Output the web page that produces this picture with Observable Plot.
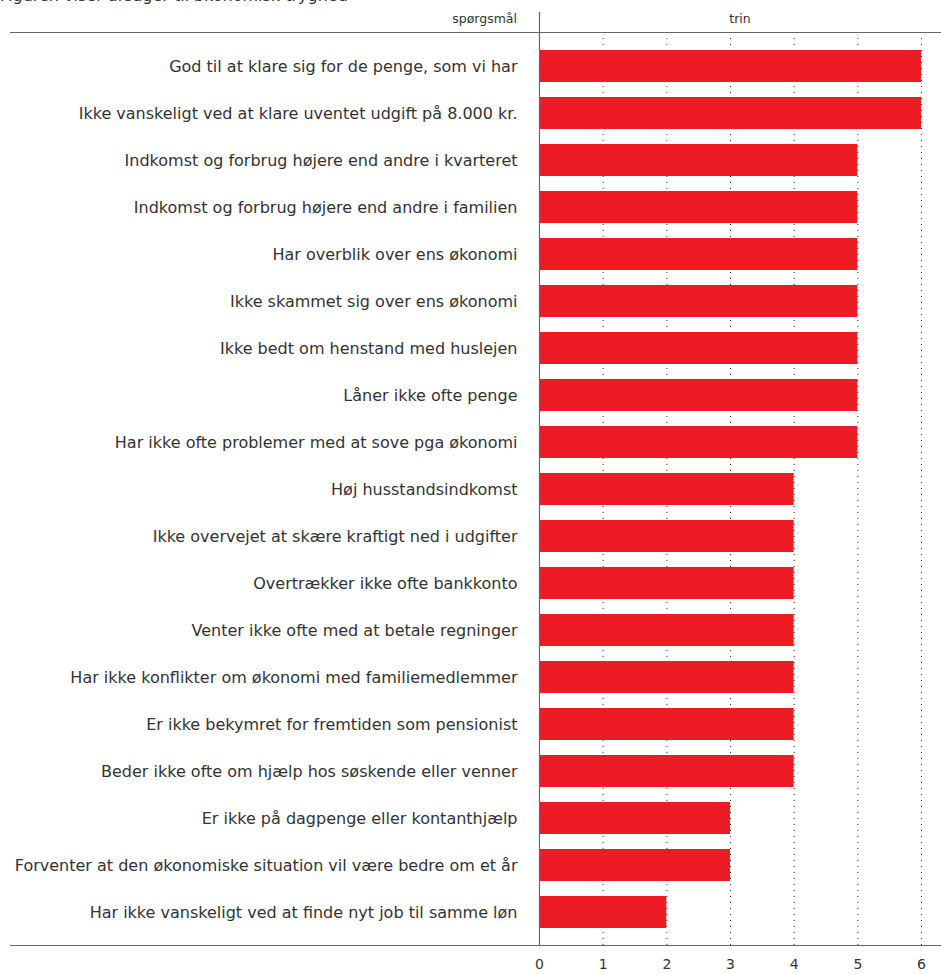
<!DOCTYPE html>
<html>
<head>
<meta charset="utf-8">
<script src="https://cdn.jsdelivr.net/npm/d3@7"></script>
<script src="https://cdn.jsdelivr.net/npm/@observablehq/plot@0.6"></script>
<style>
  html, body { margin: 0; padding: 0; background: #fff; overflow: hidden; }
  body { font-family: "DejaVu Sans", sans-serif; color: #333; position: relative; width: 941px; height: 974px; }
  #title { position: absolute; left: 0; top: -13px; font-size: 16px; line-height: 18px; white-space: nowrap; color: #333; z-index: 2; }
  #chart { position: absolute; left: 0; top: 0; }
</style>
</head>
<body>
<div id="title">Figuren viser årsager til økonomisk tryghed</div>
<div id="chart"></div>
<script>
const questions = [
  "God til at klare sig for de penge, som vi har",
  "Ikke vanskeligt ved at klare uventet udgift på 8.000 kr.",
  "Indkomst og forbrug højere end andre i kvarteret",
  "Indkomst og forbrug højere end andre i familien",
  "Har overblik over ens økonomi",
  "Ikke skammet sig over ens økonomi",
  "Ikke bedt om henstand med huslejen",
  "Låner ikke ofte penge",
  "Har ikke ofte problemer med at sove pga økonomi",
  "Høj husstandsindkomst",
  "Ikke overvejet at skære kraftigt ned i udgifter",
  "Overtrækker ikke ofte bankkonto",
  "Venter ikke ofte med at betale regninger",
  "Har ikke konflikter om økonomi med familiemedlemmer",
  "Er ikke bekymret for fremtiden som pensionist",
  "Beder ikke ofte om hjælp hos søskende eller venner",
  "Er ikke på dagpenge eller kontanthjælp",
  "Forventer at den økonomiske situation vil være bedre om et år",
  "Har ikke vanskeligt ved at finde nyt job til samme løn"
];
const steps = [6, 6, 5, 5, 5, 5, 5, 5, 5, 4, 4, 4, 4, 4, 4, 4, 3, 3, 2];
const xTicks = [0, 1, 2, 3, 4, 5, 6];
const headerLeft = "spørgsmål";
const headerRight = "trin";

const data = questions.map((q, i) => ({ q, v: steps[i] }));

const W = 941, H = 974;
const mL = 539, mR = 20, mT = 32, mB = 29;
const FONT = "DejaVu Sans, sans-serif";

const plot = Plot.plot({
  width: W,
  height: H,
  marginLeft: mL,
  marginRight: mR,
  marginTop: mT,
  marginBottom: mB,
  style: { fontFamily: FONT, color: "#333", background: "#fff" },
  x: { domain: [0, 6], ticks: xTicks, label: null, tickFormat: "d" },
  y: { domain: questions, label: null, paddingInner: 0.32, paddingOuter: 0.2 },
  marks: [
    Plot.gridX(xTicks.filter(d => d > 0), { stroke: "#333", strokeOpacity: 1, strokeDasharray: "1,5", strokeWidth: 1 }),
    Plot.barX(data, { y: "q", x: "v", fill: "#ed1c24" }),
    Plot.axisX({ ticks: xTicks, tickFormat: "d", tickSize: 0, tickPadding: 14, fontSize: 14, label: null }),
    Plot.axisY({ tickSize: 0, tickPadding: 22, fontSize: 16, label: null })
  ]
});

document.getElementById("chart").appendChild(plot);

const svg = d3.select(plot);
const g = svg.append("g").attr("stroke", "#666").attr("stroke-width", 1.2);
g.append("line").attr("x1", 10).attr("x2", W).attr("y1", mT + 0.5).attr("y2", mT + 0.5);
g.append("line").attr("x1", 10).attr("x2", W).attr("y1", H - mB + 0.5).attr("y2", H - mB + 0.5);
g.append("line").attr("x1", mL + 0.5).attr("x2", mL + 0.5).attr("y1", 12).attr("y2", H - mB);

svg.append("text").attr("x", mL - 22).attr("y", 23).attr("text-anchor", "end")
  .attr("font-size", 12.5).attr("fill", "#333").text(headerLeft);
svg.append("text").attr("x", (mL + W) / 2).attr("y", 23).attr("text-anchor", "middle")
  .attr("font-size", 12.5).attr("fill", "#333").text(headerRight);
</script>
</body>
</html>
